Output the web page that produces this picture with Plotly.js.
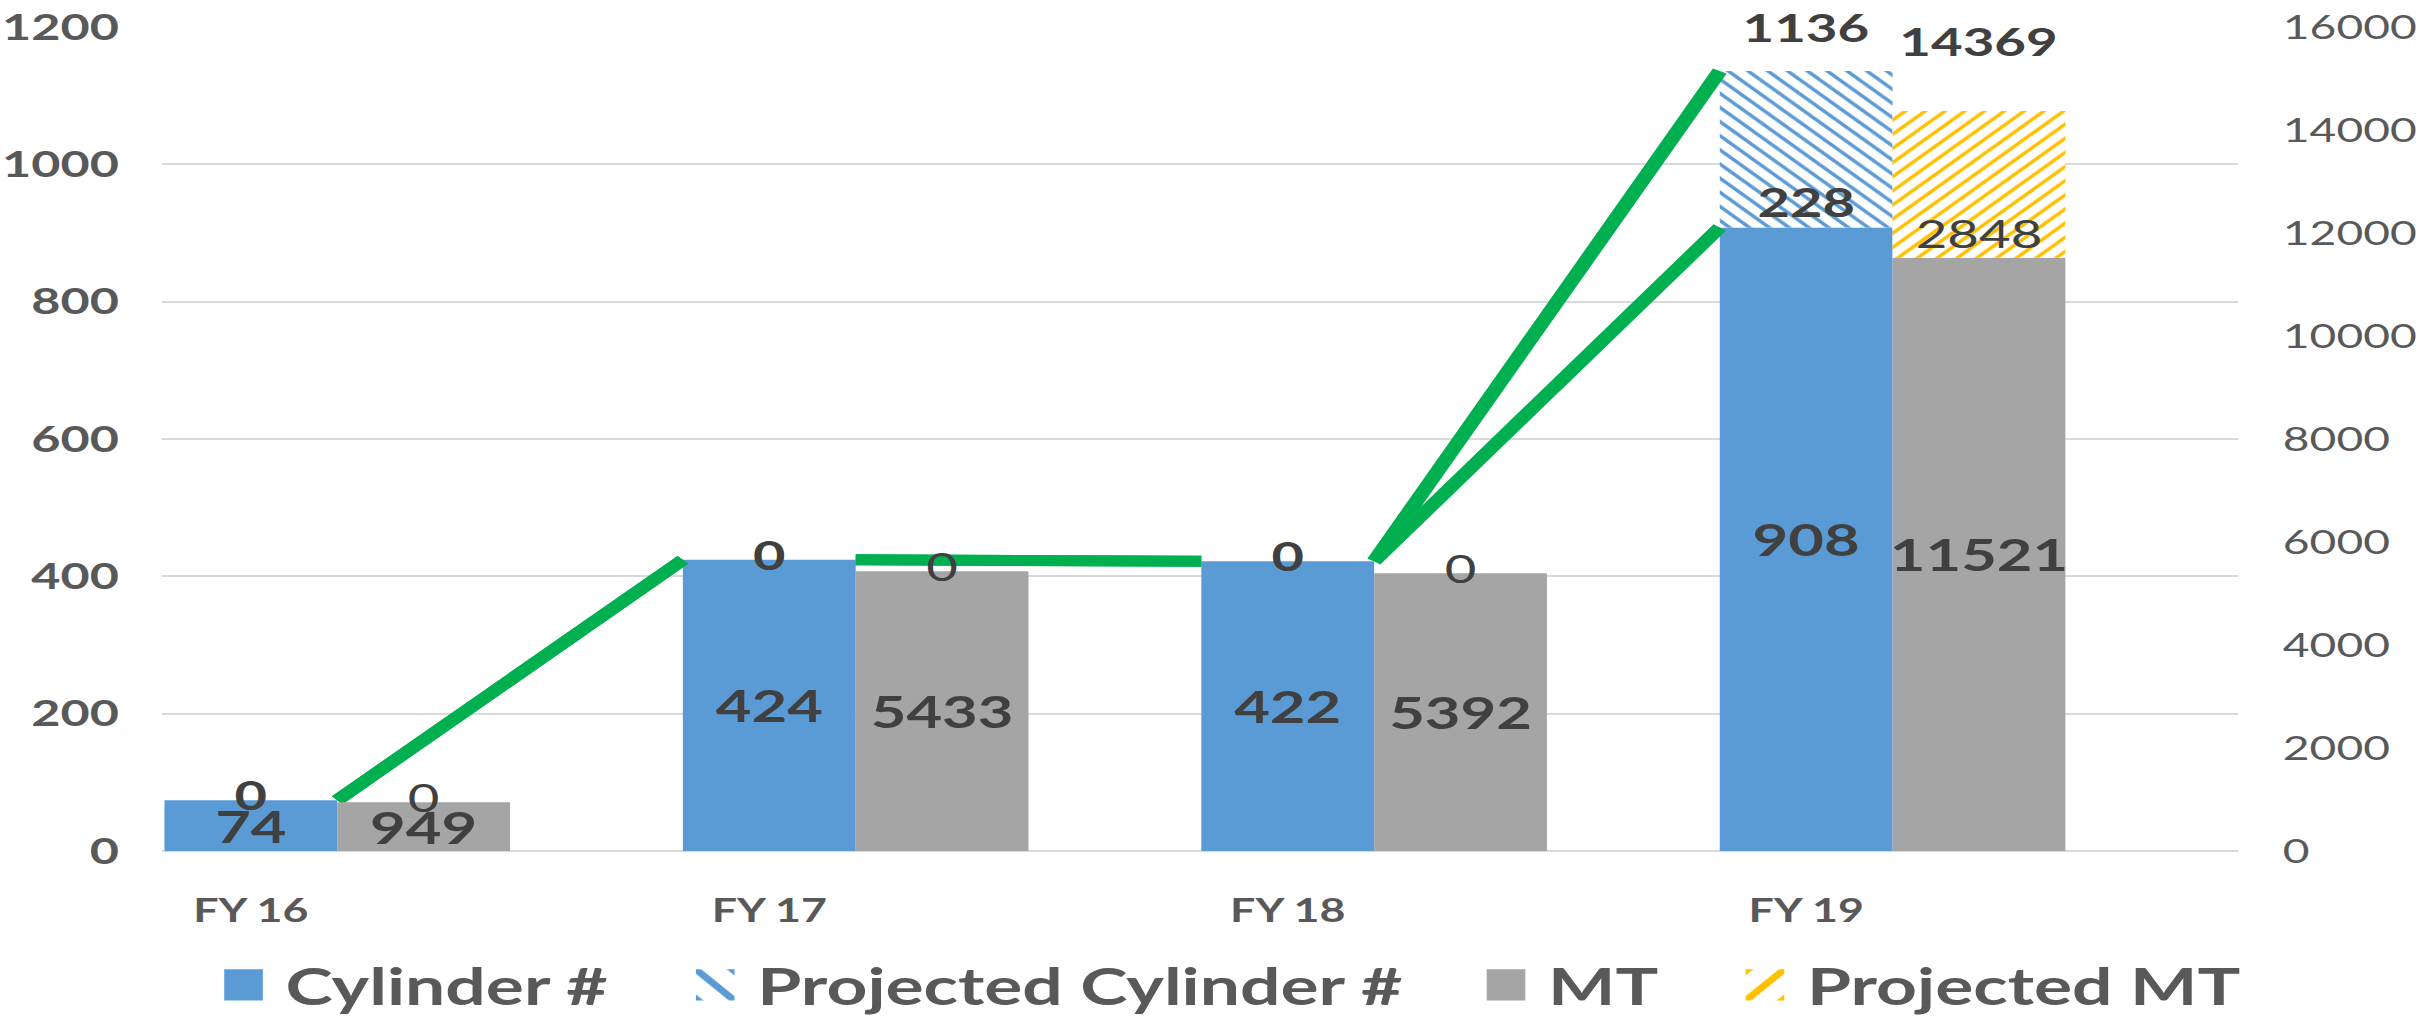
<!DOCTYPE html>
<html>
<head>
<meta charset="utf-8">
<script src="https://cdn.plot.ly/plotly-3.0.1.min.js"></script>
<style>
  html, body { margin: 0; padding: 0; overflow: hidden; background: #fff; }
  #chart { width: 1734px; height: 1020px; transform: scaleX(1.39965); transform-origin: 0 0; }
</style>
</head>
<body>
<div id="chart"></div>
<script>
// ---- data ----
const categories = ['FY 16', 'FY 17', 'FY 18', 'FY 19'];
const cylinders = [74, 424, 422, 908];
const projectedCylinders = [0, 0, 0, 228];
const mt = [949, 5433, 5392, 11521];
const projectedMT = [0, 0, 0, 2848];
const leftTicks = [0, 200, 400, 600, 800, 1000, 1200];
const rightTicks = [0, 2000, 4000, 6000, 8000, 10000, 12000, 14000, 16000];

// ---- styling ----
const FONT = 'Lato, "Open Sans", sans-serif';
const BLUE = '#5B9BD5', GRAY = '#A5A5A5', GOLD = '#FFC000', GREEN = '#00B050';
const LABEL = '#404040', TICK = '#595959';
const BW = 1 / 3;               // bar width in category units
const idx = categories.map((_, i) => i);

const cylTop = cylinders.map((v, i) => v + projectedCylinders[i]);
const mtTop = mt.map((v, i) => v + projectedMT[i]);

const traces = [];

traces.push({
  type: 'bar', name: 'Cylinder #', legend: 'legend', x: idx, y: cylinders,
  offset: -BW / 2, width: BW,
  marker: { color: BLUE, line: { width: 0 } },
  text: cylinders.map(String), textposition: 'inside', insidetextanchor: 'middle',
  textangle: 0, constraintext: 'none',
  insidetextfont: { family: FONT, size: 44, color: LABEL, weight: 700 },
  hoverinfo: 'skip'
});
traces.push({
  type: 'bar', name: 'Projected Cylinder #', legend: 'legend2', x: idx, y: projectedCylinders, base: cylinders,
  offset: -BW / 2, width: BW,
  marker: { color: '#ffffff', line: { width: 0 },
            pattern: { shape: '\\', fgcolor: BLUE, bgcolor: '#ffffff', size: 10, solidity: 0.3 } },
  hoverinfo: 'skip'
});
traces.push({
  type: 'bar', name: 'MT', legend: 'legend3', x: idx, y: mt, yaxis: 'y2',
  offset: BW / 2, width: BW,
  marker: { color: GRAY, line: { width: 0 } },
  text: mt.map(String), textposition: 'inside', insidetextanchor: 'middle',
  textangle: 0, constraintext: 'none',
  insidetextfont: { family: FONT, size: 44, color: LABEL, weight: 700 },
  hoverinfo: 'skip'
});
traces.push({
  type: 'bar', name: 'Projected MT', legend: 'legend4', x: idx, y: projectedMT, base: mt, yaxis: 'y2',
  offset: BW / 2, width: BW,
  marker: { color: '#ffffff', line: { width: 0 },
            pattern: { shape: '/', fgcolor: GOLD, bgcolor: '#ffffff', size: 10, solidity: 0.3 } },
  hoverinfo: 'skip'
});

// series lines (connect the tops of each stacked series between neighbouring columns)
function seriesLine(tops) {
  const xs = [], ys = [];
  for (let i = 0; i < tops.length - 1; i++) {
    xs.push(idx[i] + BW / 2, idx[i + 1] - BW / 2, null);
    ys.push(tops[i], tops[i + 1], null);
  }
  return { type: 'scatter', mode: 'lines', x: xs, y: ys, showlegend: false, hoverinfo: 'skip',
           line: { color: GREEN, width: 11 } };
}
traces.push(seriesLine(cylinders));
traces.push(seriesLine(cylTop));

// labels of the projected segments
traces.push({
  type: 'scatter', mode: 'text', x: idx, y: cylinders, showlegend: false, hoverinfo: 'skip',
  text: projectedCylinders.map(String),
  textposition: projectedCylinders.map(v => v === 0 ? 'middle center' : 'top center'),
  textfont: { family: FONT, size: 40, color: LABEL, weight: 700 }
});
traces.push({
  type: 'scatter', mode: 'text', x: idx.map(i => i + BW), y: mt, yaxis: 'y2',
  showlegend: false, hoverinfo: 'skip',
  text: projectedMT.map(String),
  textposition: projectedMT.map(v => v === 0 ? 'middle center' : 'top center'),
  textfont: { family: FONT, size: 39, color: LABEL, weight: 400 }
});

// total labels above the projected columns
const annotations = [];
idx.forEach(i => {
  if (projectedCylinders[i] > 0) {
    annotations.push({ x: i, y: cylTop[i], xref: 'x', yref: 'y', text: String(cylTop[i]),
      showarrow: false, yanchor: 'middle', yshift: 44,
      font: { family: FONT, size: 39, color: LABEL, weight: 700 } });
  }
  if (projectedMT[i] > 0) {
    annotations.push({ x: i + BW, y: mtTop[i], xref: 'x', yref: 'y2', text: String(mtTop[i]),
      showarrow: false, yanchor: 'middle', yshift: 70,
      font: { family: FONT, size: 39, color: LABEL, weight: 700 } });
  }
});

function legendAt(xpx) {
  return {
    orientation: 'h', xref: 'container', yref: 'container',
    x: xpx / 1734, xanchor: 'left', y: 0.034, yanchor: 'middle',
    itemwidth: 50, bgcolor: 'rgba(0,0,0,0)', borderwidth: 0,
    font: { family: FONT, size: 51, color: TICK, weight: 700 },
    itemclick: false, itemdoubleclick: false
  };
}

const layout = {
  width: 1734, height: 1020,
  margin: { l: 116, r: 135, t: 27, b: 169 },
  paper_bgcolor: '#ffffff', plot_bgcolor: '#ffffff',
  barmode: 'overlay',
  font: { family: FONT, color: TICK },
  xaxis: {
    range: [-BW / 2 - 0.004, 3.833], tickvals: idx, ticktext: categories,
    showgrid: false, zeroline: false, showline: false, ticks: '',
    tickfont: { family: FONT, size: 32, color: TICK, weight: 700 },
    ticklabelstandoff: 38, fixedrange: true
  },
  yaxis: {
    range: [0, 1200], tickvals: leftTicks, ticktext: leftTicks.map(String),
    showgrid: true, gridcolor: '#D9D9D9', gridwidth: 2,
    zeroline: true, zerolinecolor: '#D9D9D9', zerolinewidth: 2,
    showline: false, ticks: '',
    tickfont: { family: FONT, size: 36, color: TICK, weight: 700 },
    ticklabelstandoff: 30, fixedrange: true
  },
  yaxis2: {
    range: [0, 16000], tickvals: rightTicks, ticktext: rightTicks.map(String),
    overlaying: 'y', side: 'right', showgrid: false, zeroline: false, showline: false, ticks: '',
    tickfont: { family: FONT, size: 33, color: TICK, weight: 400 },
    ticklabelstandoff: 31, fixedrange: true
  },
  showlegend: true,
  legend: legendAt(144),
  legend2: legendAt(481),
  legend3: legendAt(1046),
  legend4: legendAt(1231),
  annotations: annotations
};

Plotly.newPlot('chart', traces, layout, { displayModeBar: false, responsive: false }).then(() => {
  document.querySelectorAll('.legendpoints path').forEach(p => {
    const t = p.getAttribute('transform') || '';
    p.setAttribute('transform', t + ' scale(2.3,2.6)');
  });
});
</script>
</body>
</html>
